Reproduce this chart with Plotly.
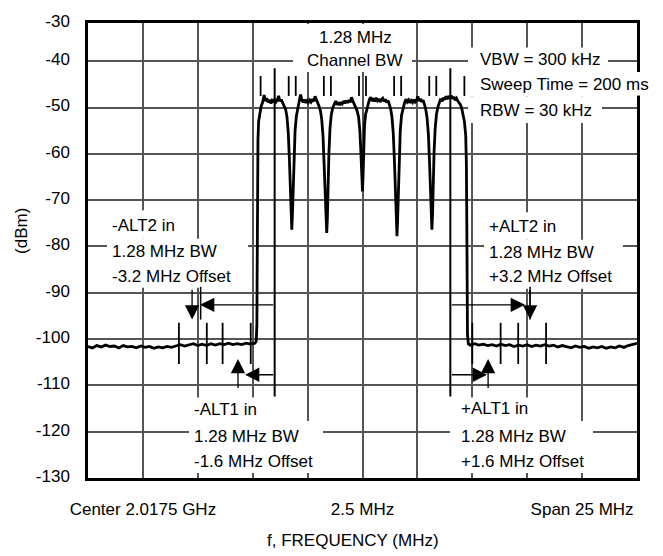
import plotly.graph_objects as go

# ---------------- data ----------------
freq_mhz = [
    -12.5, -12.3, -12.1, -11.9, -11.7, -11.5, -11.3, -11.1, -10.9, -10.7, -10.5, -10.3, -10.1,
    -9.9, -9.7, -9.5, -9.3, -9.1, -8.9, -8.7, -8.5, -8.3, -8.1, -7.9, -7.7, -7.5, -7.3, -7.1,
    -6.9, -6.7, -6.5, -6.3, -6.1, -5.9, -5.7, -5.5, -5.3, -5.1, -4.9,
    -4.84, -4.81, -4.80, -4.79, -4.78, -4.76, -4.73, -4.68,
    -4.62, -4.55, -4.48, -4.42, -4.36, -4.30, -4.24, -4.18, -4.12, -4.06, -4.00, -3.94, -3.88,
    -3.82, -3.76, -3.70, -3.64, -3.58,
    -3.50, -3.44, -3.38, -3.33, -3.29, -3.25, -3.22, -3.19, -3.16, -3.12, -3.07, -3.01, -2.94,
    -2.88, -2.82, -2.76, -2.70, -2.64, -2.58, -2.52, -2.46, -2.40, -2.34, -2.28, -2.22, -2.16,
    -2.10, -2.04, -1.98,
    -1.92, -1.86, -1.80, -1.75, -1.71, -1.67, -1.63, -1.60, -1.57, -1.53, -1.48, -1.42, -1.35,
    -1.28, -1.22, -1.16, -1.10, -1.04, -0.98, -0.92, -0.86, -0.80, -0.74, -0.68, -0.62, -0.56,
    -0.50, -0.44, -0.38, -0.32,
    -0.26, -0.18, -0.12, -0.08, -0.05, -0.02, 0.00, 0.03, 0.06, 0.09, 0.14, 0.20,
    0.26, 0.32, 0.38, 0.44, 0.50, 0.56, 0.62, 0.68, 0.74, 0.80, 0.86, 0.92, 0.98, 1.04, 1.10,
    1.16, 1.22,
    1.28, 1.34, 1.40, 1.45, 1.49, 1.53, 1.57, 1.60, 1.63, 1.67, 1.72, 1.78, 1.85,
    1.92, 1.98, 2.04, 2.10, 2.16, 2.22, 2.28, 2.34, 2.40, 2.46, 2.52, 2.58, 2.64, 2.70, 2.76, 2.82,
    2.88, 2.94, 3.00, 3.05, 3.09, 3.13, 3.16, 3.19, 3.22, 3.26, 3.31, 3.37, 3.44,
    3.50, 3.56, 3.62, 3.68, 3.74, 3.80, 3.86, 3.92, 3.98, 4.04, 4.10, 4.16, 4.22, 4.28, 4.34,
    4.40, 4.46, 4.52,
    4.58, 4.64, 4.70, 4.73, 4.75, 4.76, 4.78, 4.82,
    4.9, 5.1, 5.3, 5.5, 5.7, 5.9, 6.1, 6.3, 6.5, 6.7, 6.9, 7.1, 7.3, 7.5, 7.7, 7.9, 8.1, 8.3,
    8.5, 8.7, 8.9, 9.1, 9.3, 9.5, 9.7, 9.9, 10.1, 10.3, 10.5, 10.7, 10.9, 11.1, 11.3, 11.5,
    11.7, 11.9, 12.1, 12.3, 12.5,
]
level_dbm = [
    -101.6, -101.9, -101.4, -101.7, -101.3, -101.6, -101.5, -101.9, -101.4, -101.7, -101.6, -101.9, -101.5,
    -101.8, -101.6, -102.0, -101.7, -101.9, -101.6, -101.8, -101.5, -101.2, -101.5, -101.3, -101.0, -101.4, -101.1, -101.4,
    -101.0, -101.3, -101.0, -101.2, -100.9, -101.2, -101.0, -101.2, -100.9, -101.1, -100.9,
    -100.5, -97.0, -88.0, -75.0, -64.0, -57.0, -53.0, -51.0,
    -49.8, -48.9, -47.3, -48.6, -48.0, -48.9, -48.3, -49.1, -48.5, -48.9, -48.2, -48.8, -48.4,
    -47.5, -48.7, -48.3, -49.0, -49.6,
    -50.4, -52.0, -55.5, -61.0, -67.0, -73.0, -76.4, -73.0, -67.0, -60.0, -55.0, -51.8, -50.0,
    -48.6, -47.2, -48.4, -48.9, -48.3, -49.0, -48.5, -48.9, -48.4, -48.8, -48.2, -48.7, -47.6,
    -48.5, -49.0, -49.7,
    -50.6, -52.4, -56.0, -62.0, -68.0, -74.0, -77.1, -74.0, -67.0, -60.0, -54.5, -51.5, -50.0,
    -49.2, -48.6, -49.4, -48.9, -49.5, -48.8, -49.2, -48.6, -49.1, -48.5, -49.0, -48.4, -48.9,
    -47.8, -48.6, -49.2, -50.0,
    -50.5, -52.0, -55.0, -59.0, -63.0, -67.5, -68.1, -64.0, -58.0, -54.0, -51.5, -50.4,
    -49.3, -48.2, -47.8, -48.6, -48.0, -48.7, -47.9, -48.5, -48.1, -48.8, -48.3, -48.0, -48.7, -48.2, -48.9,
    -48.5, -49.3,
    -50.3, -52.0, -55.5, -61.0, -67.0, -73.5, -77.8, -74.0, -67.5, -60.5, -55.0, -51.6, -50.0,
    -48.9, -48.2, -48.8, -48.4, -49.0, -48.5, -48.9, -48.3, -48.8, -48.4, -47.6, -48.6, -48.1, -48.8, -48.4, -49.3,
    -50.4, -52.2, -55.8, -61.5, -67.5, -73.5, -76.4, -73.0, -66.5, -59.5, -54.5, -51.4, -49.8,
    -48.8, -48.1, -48.7, -47.9, -48.3, -47.6, -48.2, -47.5, -48.0, -47.4, -48.1, -47.7, -48.4, -48.0, -48.6,
    -48.9, -49.4, -50.2,
    -51.5, -53.0, -56.0, -62.0, -75.0, -90.0, -99.0, -101.0,
    -101.3, -101.0, -101.3, -101.1, -101.4, -101.2, -101.5, -101.1, -101.4, -101.2, -101.6, -101.3, -101.5, -101.2, -101.6, -101.3, -101.5, -101.2,
    -101.5, -101.3, -101.7, -101.4, -101.7, -101.9, -101.5, -101.8, -101.6, -102.0, -101.7, -101.9, -101.6, -102.0, -101.7, -101.9,
    -101.5, -101.8, -101.4, -101.2, -100.9,
]

# marker lines drawn on the analyzer display (MHz from center)
channel_marker_mhz = [-4.64, -3.36, -3.04, -1.76, -1.44, -0.16, 0.16, 1.44, 1.76, 3.04, 3.36, 4.64]
channel_marker_dbm = [-43.2, -47.5]
alt_marker_mhz = [-8.36, -7.09, -6.37, -5.09, 5.0, 6.29, 7.09, 8.36]
alt_marker_dbm = [-96.5, -105.4]
reference_mhz = [-4.0, 4.0]
reference_dbm = [-41.5, -112.4]
offset_marker_mhz = [-7.37, 7.63]
offset_marker_dbm = [-88.7, -95.8]

# arrows: (tip x, tip y, tail x, tail y)
alt2_arrows = [(-7.4, -92.6, -4.0, -92.6), (7.4, -92.6, 4.0, -92.6),
               (-7.76, -95.8, -7.76, -89.0), (7.63, -95.8, 7.63, -89.0)]
alt1_arrows = [(-5.35, -107.7, -4.0, -107.7), (5.67, -107.7, 4.0, -107.7),
               (-5.67, -104.3, -5.67, -110.9), (5.72, -104.3, 5.72, -110.9)]

y_ticks = [-130, -120, -110, -100, -90, -80, -70, -60, -50, -40, -31.75]
y_tick_text = ["-130", "-120", "-110", "-100", "-90", "-80", "-70", "-60", "-50", "-40", "-30"]
x_ticks = [-12.5, -10, -7.5, -5, -2.5, 0, 2.5, 5, 7.5, 10, 12.5]
x_tick_text = ["", "Center 2.0175 GHz", "", "", "", "2.5 MHz", "", "", "", "Span 25 MHz", ""]

X_RANGE = [-12.5, 12.5]
Y_RANGE = [-130, -31.75]

# ---------------- layout helpers (pixel -> paper / data) ----------------
W, H = 663, 556
L, R, T, B = 88, 26, 14, 78
PW, PH = W - L - R, H - T - B


def px(x):
    return (x - L) / PW


def py(y):
    return (H - B - y) / PH


def dx(x):
    return X_RANGE[0] + px(x) * (X_RANGE[1] - X_RANGE[0])


def dy(y):
    return Y_RANGE[0] + py(y) * (Y_RANGE[1] - Y_RANGE[0])


FONT = "Liberation Sans, Arial, Helvetica, sans-serif"

fig = go.Figure()
fig.add_trace(go.Scatter(x=freq_mhz, y=level_dbm, mode="lines",
                         line=dict(color="black", width=2.8), hoverinfo="skip",
                         showlegend=False))

shapes = []
# white panels behind the labels (mask the grid), in pixel boxes
mask_boxes = [
    (293, 15, 412, 64),
    (468, 39, 608, 64), (468, 64, 650, 89), (468, 89, 602, 116),
    (107, 205, 182, 234), (107, 234, 248, 284),
    (484, 207, 557, 235), (484, 235, 623, 285),
    (189, 396, 262, 420), (189, 420, 323, 473),
    (450, 396, 531, 420), (450, 420, 593, 473),
]
for x0, y0, x1, y1 in mask_boxes:
    shapes.append(dict(type="rect", xref="x", yref="y",
                       x0=dx(x0), x1=dx(min(x1, W - R)), y0=dy(y1), y1=dy(y0),
                       fillcolor="white", line=dict(width=0), layer="between"))
# the "Sweep Time" label also breaks the right frame line
shapes.append(dict(type="rect", xref="paper", yref="paper",
                   x0=px(633), x1=px(642), y0=py(88), y1=py(64),
                   fillcolor="white", line=dict(width=0), layer="above"))

for xm in channel_marker_mhz:
    shapes.append(dict(type="line", xref="x", yref="y", x0=xm, x1=xm,
                       y0=channel_marker_dbm[0], y1=channel_marker_dbm[1],
                       line=dict(color="black", width=1.8), layer="above"))
for xm in alt_marker_mhz:
    shapes.append(dict(type="line", xref="x", yref="y", x0=xm, x1=xm,
                       y0=alt_marker_dbm[0], y1=alt_marker_dbm[1],
                       line=dict(color="black", width=1.8), layer="above"))
for xm in reference_mhz:
    shapes.append(dict(type="line", xref="x", yref="y", x0=xm, x1=xm,
                       y0=reference_dbm[0], y1=reference_dbm[1],
                       line=dict(color="black", width=2), layer="above"))
for xm in offset_marker_mhz:
    shapes.append(dict(type="line", xref="x", yref="y", x0=xm, x1=xm,
                       y0=offset_marker_dbm[0], y1=offset_marker_dbm[1],
                       line=dict(color="black", width=1.5), layer="above"))

annotations = []
for tx, ty, sx, sy in alt2_arrows + alt1_arrows:
    annotations.append(dict(x=tx, y=ty, ax=sx, ay=sy, xref="x", yref="y",
                            axref="x", ayref="y", text="", showarrow=True,
                            arrowhead=2, arrowsize=2.2, arrowwidth=1.3,
                            arrowcolor="black", standoff=0, startstandoff=0))

# text labels: (text, x px, y px, anchor)
labels = [
    ("1.28 MHz", 355, 29, "center"),
    ("Channel BW", 354, 52, "center"),
    ("VBW = 300 kHz", 478, 51, "left"),
    ("Sweep Time = 200 ms", 478, 77, "left"),
    ("RBW = 30 kHz", 478, 103, "left"),
    ("-ALT2 in", 110, 220, "left"),
    ("1.28 MHz BW", 110, 247, "left"),
    ("-3.2 MHz Offset", 110, 272.5, "left"),
    ("+ALT2 in", 487, 222, "left"),
    ("1.28 MHz BW", 487, 248, "left"),
    ("+3.2 MHz Offset", 487, 272.5, "left"),
    ("-ALT1 in", 192, 408.5, "left"),
    ("1.28 MHz BW", 192, 436, "left"),
    ("-1.6 MHz Offset", 192, 461, "left"),
    ("+ALT1 in", 459, 407.5, "left"),
    ("1.28 MHz BW", 459, 436, "left"),
    ("+1.6 MHz Offset", 459, 461, "left"),
]
for text, x, y, anchor in labels:
    annotations.append(dict(text=text, xref="paper", yref="paper", x=px(x), y=py(y),
                            xanchor=anchor, yanchor="middle", showarrow=False,
                            font=dict(family=FONT, size=17, color="black")))

annotations.append(dict(text="f, FREQUENCY (MHz)", xref="paper", yref="paper",
                        x=px(353), y=py(542), xanchor="center", yanchor="middle",
                        showarrow=False, font=dict(family=FONT, size=17, color="black")))
annotations.append(dict(text="(dBm)", xref="paper", yref="paper",
                        x=px(22), y=py(226), xanchor="center", yanchor="middle",
                        textangle=-90, showarrow=False,
                        font=dict(family=FONT, size=17, color="black")))

fig.update_layout(
    width=W, height=H,
    margin=dict(l=L, r=R, t=T, b=B),
    paper_bgcolor="white", plot_bgcolor="white",
    font=dict(family=FONT, size=17, color="black"),
    shapes=shapes, annotations=annotations,
    showlegend=False,
)
fig.update_xaxes(range=X_RANGE, tickvals=x_ticks, ticktext=x_tick_text,
                 showgrid=True, gridcolor="#555555", gridwidth=1.5,
                 showline=True, linecolor="black", linewidth=2.5, mirror=True,
                 ticks="", zeroline=False, ticklabelstandoff=14,
                 tickfont=dict(family=FONT, size=17, color="black"))
fig.update_yaxes(range=Y_RANGE, tickvals=y_ticks, ticktext=y_tick_text,
                 showgrid=True, gridcolor="#555555", gridwidth=1.5,
                 showline=True, linecolor="black", linewidth=2.5, mirror=True,
                 ticks="", zeroline=False, ticklabelstandoff=12,
                 ticklabelshift=-2,
                 tickfont=dict(family=FONT, size=17, color="black"))

fig.write_html("out.html", config={"displayModeBar": False},
               post_script="document.body.style.margin='0px';")
